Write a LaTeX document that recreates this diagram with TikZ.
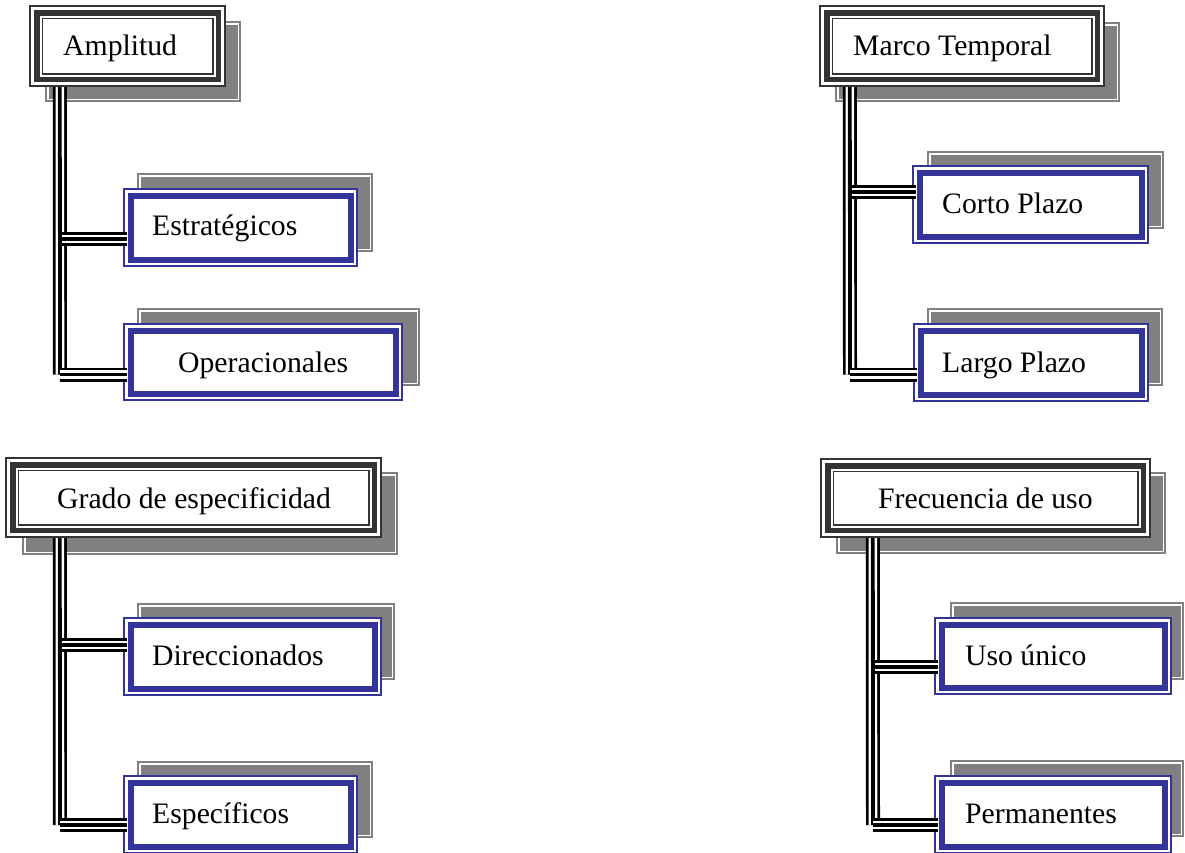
\documentclass[tikz,border=0pt]{standalone}
\usepackage{fontspec}
\setmainfont{Liberation Serif}
\usetikzlibrary{fit,calc}
\definecolor{frameDk}{HTML}{333333}
\definecolor{shadowGr}{HTML}{808080}
\definecolor{boxBl}{HTML}{333399}
\tikzset{
  shadowline/.style={draw=shadowGr, line width=1.7pt},
  shadowfill/.style={fill=shadowGr},
  frameouter/.style={draw=frameDk, line width=2pt},
  framethick/.style={draw=frameDk, line width=5.5pt},
  frameinner/.style={draw=frameDk, line width=1.5pt},
  boxouter/.style={draw=boxBl, line width=1.3pt},
  boxband/.style={draw=boxBl, line width=6pt},
  triple/.style={draw=black, line width=14pt,
    postaction={draw=white, line width=8.6pt},
    postaction={draw=black, line width=3.8pt}},
  lbl/.style={inner sep=0pt, anchor=base west, font=\fontsize{29.7}{34}\selectfont},
  boxnode/.style={inner sep=0pt, draw=none},
}
\newcommand\MyShadow[4]{%
  \draw[shadowline] ({#1+0.85},{#2+0.85}) rectangle ({#3-0.85},{#4-0.85});
  \fill[shadowfill] ({#1+3.5},{#2+3.5}) rectangle ({#3-3.5},{#4-3.5});}
\newcommand\MyParent[5]{%
  \fill[white] (#2,#3) rectangle (#4,#5);
  \draw[frameouter] ({#2+1},{#3+1}) rectangle ({#4-1},{#5-1});
  \draw[framethick] ({#2+7.75},{#3+7.75}) rectangle ({#4-7.75},{#5-7.75});
  \draw[frameinner] ({#2+13.25},{#3+13.25}) rectangle ({#4-13.25},{#5-13.25});
  \coordinate (#1-nw) at (#2,#3);
  \coordinate (#1-se) at (#4,#5);
  \node[boxnode, fit=(#1-nw)(#1-se)] (#1) {};}
\newcommand\MyChild[5]{%
  \fill[white] (#2,#3) rectangle (#4,#5);
  \draw[boxouter] ({#2+1},{#3+1}) rectangle ({#4-1},{#5-1});
  \draw[boxband] ({#2+7.5},{#3+7.5}) rectangle ({#4-7.5},{#5-7.5});
  \coordinate (#1-nw) at (#2,#3);
  \coordinate (#1-se) at (#4,#5);
  \node[boxnode, fit=(#1-nw)(#1-se)] (#1) {};}
\begin{document}
\begin{tikzpicture}[x=1pt, y=-1pt]
\useasboundingbox (0,0) rectangle (1185,852);
% shadows
\MyShadow{45}{21}{241}{102}
\MyShadow{835}{22}{1120}{102}
\MyShadow{22}{472}{398}{555}
\MyShadow{836}{472}{1166}{554}
\MyShadow{137}{173}{373}{252}
\MyShadow{137}{308}{420}{386}
\MyShadow{927}{151}{1164}{229}
\MyShadow{927}{308}{1163}{386}
\MyShadow{137}{603}{395}{680}
\MyShadow{137}{761}{373}{838}
\MyShadow{950}{602}{1184}{680}
\MyShadow{950}{760}{1184}{837}
% parent frames
\MyParent{amp}{29}{5}{226}{87}
\MyParent{marco}{819}{5}{1105}{87}
\MyParent{grado}{5}{457}{382}{538}
\MyParent{frec}{820}{458}{1151}{538}
% child boxes
\MyChild{estr}{123}{188}{358}{267}
\MyChild{oper}{123}{323}{403}{401}
\MyChild{corto}{912}{165}{1149}{244}
\MyChild{largo}{913}{323}{1149}{402}
\MyChild{direc}{123}{617}{382}{696}
\MyChild{espec}{123}{775}{358}{854}
\MyChild{uso}{934}{617}{1172}{695}
\MyChild{perm}{934}{775}{1172}{854}
% labels
\node[lbl] (tamp) at (63,55) {Amplitud};
\node[lbl] (testr) at (152,235) {Estratégicos};
\node[lbl] (toper) at (178,372) {Operacionales};
\node[lbl] (tmarco) at (853,55) {Marco Temporal};
\node[lbl] (tcorto) at (942,213) {Corto Plazo};
\node[lbl] (tlargo) at (942,372) {Largo Plazo};
\node[lbl] (tgrado) at (57,508) {Grado de especificidad};
\node[lbl] (tfrec) at (878,508) {Frecuencia de uso};
\node[lbl] (tdirec) at (152,665) {Direccionados};
\node[lbl] (tuso) at (965,665) {Uso único};
\node[lbl] (tespec) at (152,823) {Específicos};
\node[lbl] (tperm) at (965,823) {Permanentes};
% connectors: Amplitud
\coordinate (aC) at (60,374.5);
\coordinate (aB) at (61.9,239);
\draw[triple] ($(amp.south west)+(31,0)$) -- (aC);
\draw[triple] (aB) -- ($(aB -| estr.west)+(4.5,0)$);
\draw[triple] (aC) -- ($(aC -| oper.west)+(4.5,0)$);
% Marco Temporal
\coordinate (bC) at (850,374.5);
\coordinate (bB) at (851.9,192);
\draw[triple] ($(marco.south west)+(31,0)$) -- (bC);
\draw[triple] (bB) -- ($(bB -| corto.west)+(4.5,0)$);
\draw[triple] (bC) -- ($(bC -| largo.west)+(4.5,0)$);
% Grado de especificidad
\coordinate (cC) at (60,825);
\coordinate (cB) at (61.9,645);
\draw[triple] ($(grado.south west)+(55,0)$) -- (cC);
\draw[triple] (cB) -- ($(cB -| direc.west)+(4.5,0)$);
\draw[triple] (cC) -- ($(cC -| espec.west)+(4.5,0)$);
% Frecuencia de uso
\coordinate (dC) at (873,825);
\coordinate (dB) at (874.9,667);
\draw[triple] ($(frec.south west)+(53,0)$) -- (dC);
\draw[triple] (dB) -- ($(dB -| uso.west)+(4.5,0)$);
\draw[triple] (dC) -- ($(dC -| perm.west)+(4.5,0)$);
\end{tikzpicture}
\end{document}
